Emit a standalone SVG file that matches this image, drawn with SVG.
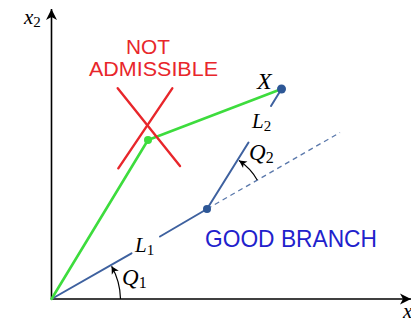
<svg xmlns="http://www.w3.org/2000/svg" width="411" height="323" viewBox="0 0 411 323">
<style>
.axis{stroke:#000;stroke-width:1.6;fill:none}
.blue{stroke:#3e619f;stroke-width:2;fill:none;stroke-linecap:round}
.dash{stroke:#5a78ab;stroke-width:1.3;fill:none;stroke-dasharray:5 4}
.green{stroke:#3ddc3d;stroke-width:2.6;fill:none;stroke-linecap:round}
.red{stroke:#e8262b;stroke-width:2.4;fill:none;stroke-linecap:round}
.arc{stroke:#000;stroke-width:1.2;fill:none}
.math{font-family:"Liberation Serif","DejaVu Serif",serif;font-style:italic;fill:#000}
.sub{font-family:"Liberation Serif","DejaVu Serif",serif;font-style:normal}
.hand{font-family:"Liberation Sans","DejaVu Sans",sans-serif;font-weight:normal}
</style>
<defs>
<marker id="big" markerUnits="userSpaceOnUse" markerWidth="14" markerHeight="14" refX="12" refY="7" orient="auto" overflow="visible">
<path d="M12,7 L1,1.5 L4,7 L1,12.5 z" fill="#000"/>
</marker>
<marker id="small" markerUnits="userSpaceOnUse" markerWidth="10" markerHeight="10" refX="8" refY="5" orient="auto" overflow="visible">
<path d="M8,5 L0.5,1 L2.5,5 L0.5,9 z" fill="#000"/>
</marker>
</defs>

<g id="axes">
<line class="axis" x1="51.5" y1="299" x2="51.5" y2="9" marker-end="url(#big)"/>
<line class="axis" x1="51.5" y1="299" x2="411" y2="299" marker-end="url(#big)"/>
<text class="math" x="24" y="24" font-size="21">x<tspan class="sub" font-size="15" dy="3">2</tspan></text>
<text class="math" x="403" y="318" font-size="21">x</text>
</g>

<g id="connectors">
<path id="dashed-extension" class="dash" d="M207,209 L340,132.5"/>
<path id="link1-a" class="blue" d="M51.5,299 L131.5,253.3"/>
<path id="link1-b" class="blue" d="M160,236.5 L207,209"/>
<path id="link2-a" class="blue" d="M207,209 L248.5,142.5"/>
<path id="link2-b" class="blue" d="M271,106 L281.5,89"/>
<path id="green-1" class="green" d="M51.5,299 L148,140"/>
<path id="green-2" class="green" d="M148,140 L281.5,89"/>
<path id="angle-q1" class="arc" d="M120.5,299 A69,69 0 0 0 111.6,266.2" marker-end="url(#small)"/>
<path id="angle-q2" class="arc" d="M257.2,180 A58,58 0 0 0 239,160.6" marker-end="url(#small)"/>
</g>

<g id="elbow"><circle cx="207" cy="209" r="4" fill="#2d5796"/></g>
<g id="endpoint-X">
<circle cx="281.5" cy="89" r="4.5" fill="#2d5796"/>
<text class="math" x="257" y="89" font-size="24">X</text>
</g>
<g id="green-elbow"><circle cx="148" cy="140" r="4" fill="#3ddc3d"/></g>

<g id="not-admissible">
<line class="red" x1="117.7" y1="88.3" x2="180" y2="166"/>
<line class="red" x1="172.3" y1="88.3" x2="118.3" y2="168.3"/>
<text class="hand" x="148" y="54" font-size="21" fill="#e8262b" text-anchor="middle" textLength="44" lengthAdjust="spacingAndGlyphs">NOT</text>
<text class="hand" x="89" y="76" font-size="20" fill="#e8262b" textLength="129" lengthAdjust="spacingAndGlyphs">ADMISSIBLE</text>
</g>

<g id="labels">
<text class="math" x="135" y="252" font-size="21" fill="#3a5a9e">L<tspan class="sub" font-size="15" dy="3">1</tspan></text>
<text class="math" x="252" y="128" font-size="21" fill="#3a5a9e">L<tspan class="sub" font-size="15" dy="3">2</tspan></text>
<text class="math" x="122" y="285" font-size="23">Q<tspan class="sub" font-size="16" dy="3">1</tspan></text>
<text class="math" x="249" y="160" font-size="23">Q<tspan class="sub" font-size="16" dy="3">2</tspan></text>
</g>

<g id="good-branch">
<text class="hand" x="205" y="247" font-size="24" fill="#1f22cc" textLength="172" lengthAdjust="spacingAndGlyphs">GOOD BRANCH</text>
</g>
</svg>
